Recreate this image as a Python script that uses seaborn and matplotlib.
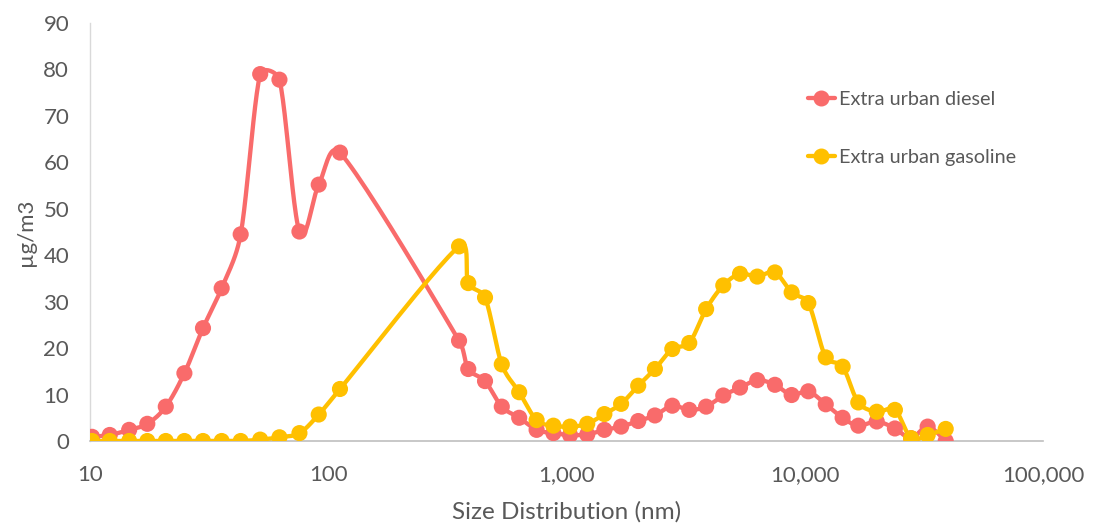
import numpy as np
import pandas as pd
import matplotlib
matplotlib.use("Agg")
import matplotlib.pyplot as plt
from matplotlib.lines import Line2D
from matplotlib.ticker import FixedLocator, FuncFormatter, NullLocator
import seaborn as sns

# Particle size bins (nm)
size_nm = [10.2, 12.1, 14.6, 17.4, 20.8, 24.9, 29.8, 35.7, 42.9, 51.8,
           62.4, 75.7, 91.2, 112, 354, 387, 455, 535, 633, 749,
           881, 1035, 1222, 1442, 1695, 2000, 2350, 2780, 3275, 3855,
           4550, 5350, 6320, 7495, 8810, 10350, 12250, 14420, 16780, 20050,
           23900, 27950, 32800, 39050]

# Mass concentration (ug/m3)
diesel = [0.9, 1.3, 2.4, 3.7, 7.4, 14.6, 24.3, 32.9, 44.5, 79.0,
          77.8, 45.1, 55.2, 62.1, 21.6, 15.5, 12.9, 7.4, 5.0, 2.4,
          1.7, 1.3, 1.4, 2.4, 3.1, 4.3, 5.5, 7.6, 6.7, 7.4,
          9.8, 11.5, 13.1, 12.1, 9.9, 10.7, 7.9, 5.0, 3.3, 4.2,
          2.7, 0.6, 3.1, 0.0]
gasoline = [0.0, 0.0, 0.0, 0.0, 0.0, 0.0, 0.0, 0.0, 0.0, 0.3,
            0.8, 1.7, 5.7, 11.2, 41.9, 34.0, 30.9, 16.5, 10.5, 4.5,
            3.3, 3.1, 3.7, 5.8, 8.0, 11.9, 15.5, 19.8, 21.1, 28.4,
            33.5, 36.0, 35.4, 36.3, 32.0, 29.7, 18.0, 16.0, 8.3, 6.3,
            6.7, 0.6, 1.3, 2.6]

series_names = ["Extra urban diesel", "Extra urban gasoline"]
colors = ["#F96B6B", "#FFC000"]

x_ticks = [10, 100, 1000, 10000, 100000]
y_ticks = [0, 10, 20, 30, 40, 50, 60, 70, 80, 90]

df = pd.DataFrame({
    "size": size_nm * 2,
    "value": diesel + gasoline,
    "series": [series_names[0]] * len(size_nm) + [series_names[1]] * len(size_nm),
})

sns.set_theme(style="white")
plt.rcParams["font.family"] = ["Lato", "DejaVu Sans"]
text_color = "#595959"

# approximate pixel scale of the plot area (per decade, per unit of y)
PX_DECADE = 238.25
PX_UNIT = 4.64


def smooth_curve(xs, ys, n=24, cap=0.42):
    """Cubic Bezier smoothing with tangent length limited by the chord."""
    lx = np.log10(np.asarray(xs, float)) * PX_DECADE
    y = np.asarray(ys, float) * PX_UNIT
    pts = np.column_stack([lx, y])
    out = [pts[0]]
    t = np.linspace(0, 1, n)[1:, None]
    for i in range(len(pts) - 1):
        p0 = pts[i - 1] if i > 0 else pts[i]
        p1 = pts[i]
        p2 = pts[i + 1]
        p3 = pts[i + 2] if i + 2 < len(pts) else pts[i + 1]
        chord = np.linalg.norm(p2 - p1)
        d1 = (p2 - p0) / 6.0
        d2 = (p3 - p1) / 6.0
        for d in (d1, d2):
            L = np.linalg.norm(d)
            if L > cap * chord and L > 0:
                d *= cap * chord / L
        c1 = p1 + d1
        c2 = p2 - d2
        seg = ((1 - t) ** 3) * p1 + 3 * ((1 - t) ** 2) * t * c1 \
            + 3 * (1 - t) * t ** 2 * c2 + t ** 3 * p2
        out.extend(seg)
    out = np.array(out)
    return 10 ** (out[:, 0] / PX_DECADE), out[:, 1] / PX_UNIT


fig = plt.figure(figsize=(10.93, 5.27), dpi=100)
ax = fig.add_axes([90 / 1093, 1 - 441 / 527, 953 / 1093, 418 / 527])
ax.set_xscale("log")

for name, vals, col, z in zip(series_names, [diesel, gasoline], colors, [2, 3]):
    sx, sy = smooth_curve(size_nm, vals)
    ax.plot(sx, sy, color=col, lw=3.1, solid_capstyle="round",
            solid_joinstyle="round", zorder=z)

sns.scatterplot(data=df, x="size", y="value", hue="series",
                palette=dict(zip(series_names, colors)), s=135,
                edgecolor="none", legend=False, ax=ax, zorder=4)
for coll in ax.collections:
    coll.set_zorder(4)

ax.set_xlim(10, 100000)
ax.set_ylim(0, 90)
ax.xaxis.set_major_locator(FixedLocator(x_ticks))
ax.xaxis.set_minor_locator(NullLocator())
ax.xaxis.set_major_formatter(FuncFormatter(lambda v, p: f"{int(round(v)):,}"))
ax.set_yticks(y_ticks)
ax.tick_params(axis="both", length=0, labelsize=16, labelcolor=text_color)
ax.tick_params(axis="x", pad=17)
ax.tick_params(axis="y", pad=15)

for side in ["top", "right"]:
    ax.spines[side].set_visible(False)
ax.spines["left"].set_color("#D9D9D9")
ax.spines["left"].set_linewidth(1.0)
ax.spines["bottom"].set_color("#BFBFBF")
ax.spines["bottom"].set_linewidth(1.2)
ax.grid(False)

ax.set_xlabel("Size Distribution (nm)", fontsize=17.5, color=text_color, labelpad=12)
ax.set_ylabel("µg/m3", fontsize=16, color=text_color, labelpad=5)

handles = [Line2D([0], [0], color=c, lw=3.1, marker="o", markersize=10.5)
           for c in colors]
leg = ax.legend(handles, series_names, loc="upper left",
                bbox_to_anchor=(700 / 953, 0.88), frameon=False,
                fontsize=14.3, handlelength=1.35, handletextpad=0.2,
                labelspacing=2.05, labelcolor=text_color)

fig.savefig("out.png", dpi=100)
